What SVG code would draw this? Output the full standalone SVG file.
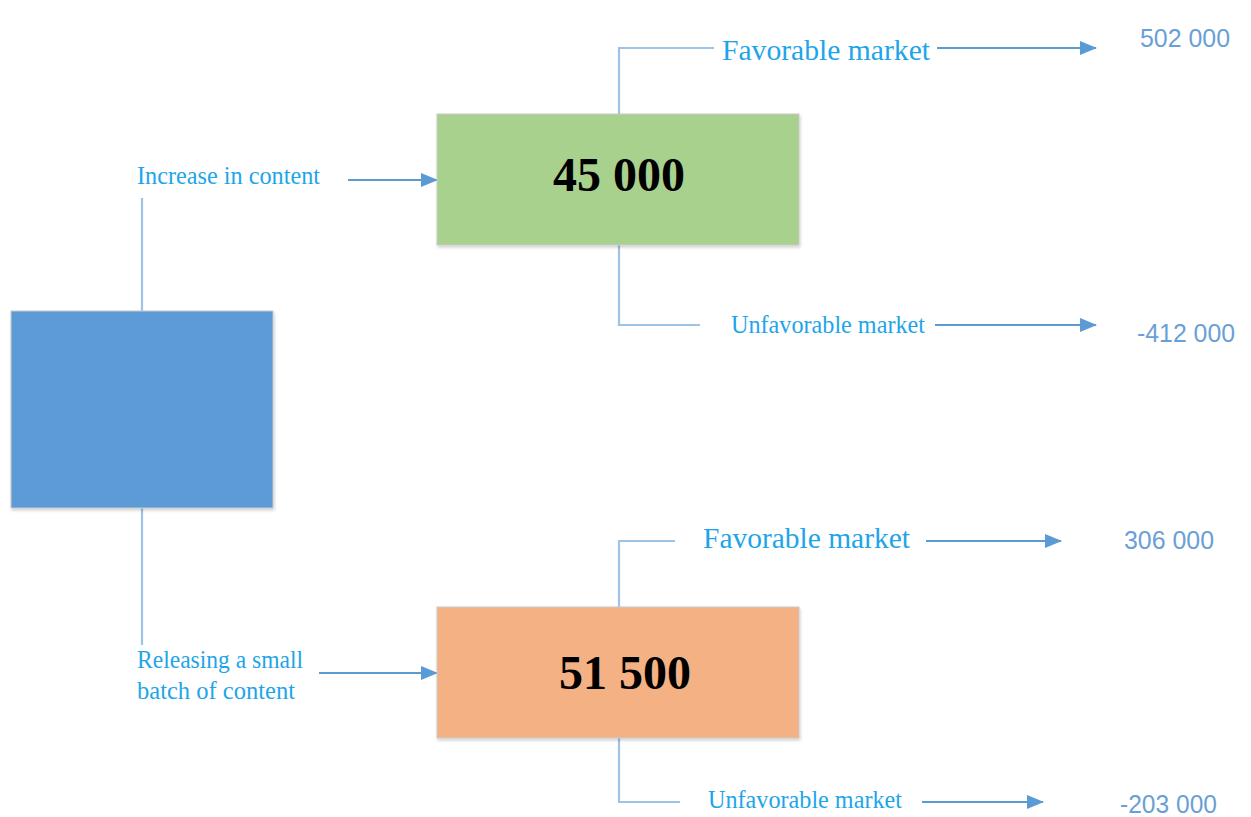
<svg xmlns="http://www.w3.org/2000/svg" width="1251" height="817" viewBox="0 0 1251 817">
<defs>
<marker id="ah" markerWidth="17" markerHeight="16" refX="16" refY="8" orient="auto" markerUnits="userSpaceOnUse">
<path d="M0,1 L17,8 L0,15 Z" fill="#5b9bd5"/>
</marker>
<filter id="sh" x="-5%" y="-5%" width="115%" height="115%">
<feDropShadow dx="1" dy="2" stdDeviation="1.5" flood-color="#000" flood-opacity="0.18"/>
</filter>
</defs>
<style>
.lbl{font-family:"Liberation Serif","Times New Roman",serif;fill:#1ea5e9}
.val{font-family:"Liberation Sans",Arial,sans-serif;fill:#6a9fd6;font-size:25px}
.num{font-family:"Liberation Serif","Times New Roman",serif;font-weight:bold;font-size:48px;fill:#000;text-anchor:middle}
.ln{fill:none;stroke:#9dc3e6;stroke-width:2.2}
.ar{fill:none;stroke:#5b9bd5;stroke-width:2;marker-end:url(#ah)}
.box{stroke:#c9c9c9;stroke-width:1;filter:url(#sh)}
</style>
<rect width="1251" height="817" fill="#fff"/>
<g id="connectors">
<polyline class="ln" points="142,311 142,198"/>
<line class="ar" x1="348" y1="180" x2="437" y2="180"/>
<polyline class="ln" points="142,508 142,645"/>
<line class="ar" x1="319" y1="673" x2="437" y2="673"/>
<polyline class="ln" points="619,114 619,48 714,48"/>
<line class="ar" x1="937" y1="48" x2="1096" y2="48"/>
<polyline class="ln" points="619,245 619,325 700,325"/>
<line class="ar" x1="935" y1="325" x2="1096" y2="325"/>
<polyline class="ln" points="619,607 619,541 675,541"/>
<line class="ar" x1="926" y1="541" x2="1061" y2="541"/>
<polyline class="ln" points="619,738 619,802 680,802"/>
<line class="ar" x1="922" y1="802" x2="1043" y2="802"/>
</g>
<g id="root">
<rect class="box" x="11" y="311" width="262" height="197" fill="#5b9bd5"/>
</g>
<g id="node-increase">
<rect class="box" x="437" y="114" width="362" height="131" fill="#a9d18e"/>
<text class="num" x="619" y="191">45 000</text>
</g>
<g id="node-small">
<rect class="box" x="437" y="607" width="362" height="131" fill="#f4b183"/>
<text class="num" x="625" y="689">51 500</text>
</g>
<g id="labels">
<text class="lbl" x="137" y="184" font-size="25" textLength="183" lengthAdjust="spacingAndGlyphs">Increase in content</text>
<text class="lbl" x="137" y="668" font-size="25" textLength="166" lengthAdjust="spacingAndGlyphs">Releasing a small</text>
<text class="lbl" x="137" y="699" font-size="25" textLength="158" lengthAdjust="spacingAndGlyphs">batch of content</text>
<text class="lbl" x="722" y="60" font-size="30" textLength="208" lengthAdjust="spacingAndGlyphs">Favorable market</text>
<text class="lbl" x="731" y="333" font-size="26" textLength="194" lengthAdjust="spacingAndGlyphs">Unfavorable market</text>
<text class="lbl" x="703" y="548" font-size="30" textLength="207" lengthAdjust="spacingAndGlyphs">Favorable market</text>
<text class="lbl" x="708" y="808" font-size="26" textLength="194" lengthAdjust="spacingAndGlyphs">Unfavorable market</text>
</g>
<g id="values">
<text class="val" x="1140" y="47" textLength="90" lengthAdjust="spacingAndGlyphs">502 000</text>
<text class="val" x="1137" y="342" textLength="98" lengthAdjust="spacingAndGlyphs">-412 000</text>
<text class="val" x="1124" y="549" textLength="90" lengthAdjust="spacingAndGlyphs">306 000</text>
<text class="val" x="1120" y="813" textLength="97" lengthAdjust="spacingAndGlyphs">-203 000</text>
</g>
</svg>
